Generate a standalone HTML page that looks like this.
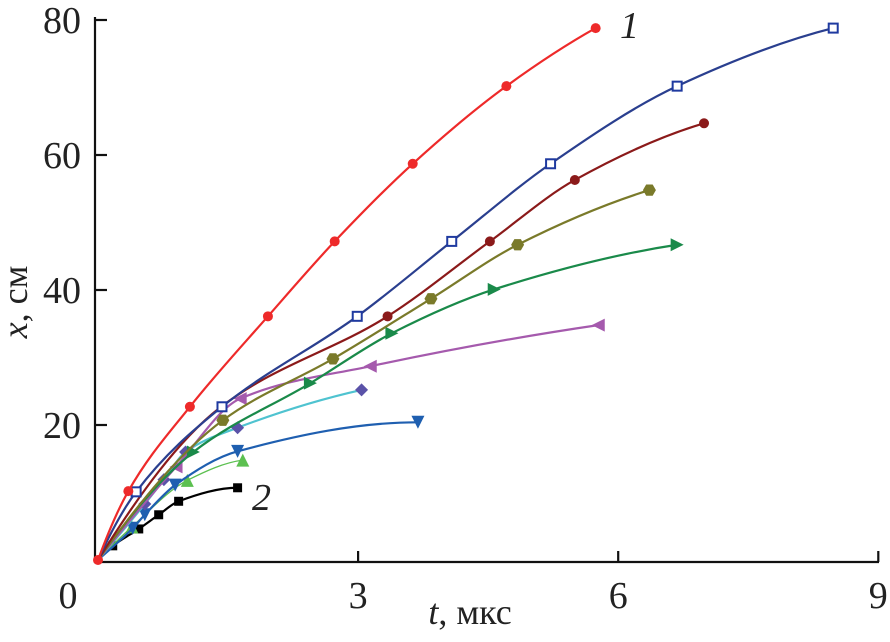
<!DOCTYPE html>
<html><head><meta charset="utf-8"><style>
body{margin:0;background:#fff}
svg{display:block;font-family:"Liberation Serif","Times New Roman",serif}
</style></head><body>
<svg id="c" width="890" height="642" viewBox="0 0 890 642">
<g id="axes">
<line x1="95" y1="17" x2="95" y2="563" stroke="#111" stroke-width="2.2"/>
<line x1="94" y1="562" x2="879" y2="562" stroke="#111" stroke-width="2.2"/>
</g>
<text x="27" y="302" transform="rotate(-90 27 302)" text-anchor="middle" font-size="36" fill="#222"><tspan font-style="italic">x</tspan>, см</text>
<text x="470" y="624" text-anchor="middle" font-size="36" fill="#222"><tspan font-style="italic">t</tspan>, мкс</text>
<text x="620" y="38" font-size="38" font-style="italic" fill="#222">1</text>
<text x="252" y="510" font-size="38" font-style="italic" fill="#222">2</text>
<g id="series"></g>
</svg>
<script>
const xTicks=[3,6,9];
const yTicks=[20,40,60,80];
const tRed=[0,0.35,1.06,1.96,2.73,3.63,4.71,5.74];
const xRed=[0,10.2,22.7,36.1,47.2,58.7,70.2,78.8];
const tBlue=[0,0.44,1.43,2.99,4.08,5.22,6.68,8.48];
const xBlue=[0,10.1,22.7,36.1,47.2,58.7,70.2,78.8];
const tDark=[0,1.4,3.34,4.52,5.50,6.99];
const xDark=[0,22.5,36.1,47.2,56.3,64.7];
const tOlive=[0,1.44,2.71,3.84,4.84,6.36];
const xOlive=[0,20.7,29.8,38.7,46.7,54.8];
const tGreen=[0,1.1,2.45,3.39,4.57,6.68];
const xGreen=[0,16,26.2,33.6,40.1,46.7];
const tPurple=[0,0.9,1.64,3.14,5.77];
const xPurple=[0,13.8,23.9,28.7,34.8];
const tDiam=[0,0.54,0.76,1.01,1.61,3.04];
const xDiam=[0,8.3,11.9,16,19.6,25.2];
const tDown=[0,0.40,0.54,0.89,1.61,3.69];
const xDown=[0,4.7,6.7,11.1,16.1,20.4];
const tLg=[0,0.39,1.03,1.67];
const xLg=[0,4.9,11.8,14.8];
const tBlack=[0,0.17,0.47,0.70,0.93,1.61];
const xBlack=[0,2.1,4.6,6.7,8.7,10.7];

const sx=t=>98+t*86.7, sy=v=>560-v*6.75;
const NS="http://www.w3.org/2000/svg";
const svg=document.getElementById('c'), ax=document.getElementById('axes'), G=document.getElementById('series');
function mk(tag,at,par){const e=document.createElementNS(NS,tag);for(const k in at)e.setAttribute(k,at[k]);(par||svg).appendChild(e);return e;}
xTicks.forEach(v=>{
 const l=mk('line',{x1:sx(v),x2:sx(v),y1:562,y2:551,stroke:'#111','stroke-width':2.2},ax);
 
 
 const t=mk('text',{x:sx(v),y:608,'text-anchor':'middle','font-size':38,fill:'#222'});
 t.textContent=v;
 
 
});
const z=mk('text',{x:68,y:608,'text-anchor':'middle','font-size':38,fill:'#222'});z.textContent='0';


yTicks.forEach(v=>{
 const l=mk('line',{x1:95,x2:107,y1:sy(v),y2:sy(v),stroke:'#111','stroke-width':2.2},ax);
 
 
 const t=mk('text',{x:81,y:sy(v)+13,'text-anchor':'end','font-size':38,fill:'#222'});
 t.textContent=v;
 
 
});
// monotone cubic (Fritsch-Carlson) in t
function curve(ts,xs){
 const n=ts.length, d=[], m=[];
 for(let i=0;i<n-1;i++)d.push((xs[i+1]-xs[i])/(ts[i+1]-ts[i]));
 for(let i=0;i<n;i++){
  if(i===0)m.push(n>2?Math.max(d[0]*1.5-d[1]*0.5,d[0]):d[0]);
  else if(i===n-1)m.push(n>2?Math.max(d[n-2]*1.5-d[n-3]*0.5,0):d[n-2]);
  else{const h0=ts[i]-ts[i-1],h1=ts[i+1]-ts[i];m.push(d[i-1]*d[i]<=0?0:(h0+h1)*3/((2*h1+h0)/d[i-1]+(h1+2*h0)/d[i]));}
 }
 let p='M'+sx(ts[0])+','+sy(xs[0]);
 for(let i=0;i<n-1;i++){
  const h=ts[i+1]-ts[i];
  p+=` C${sx(ts[i]+h/3)},${sy(xs[i]+m[i]*h/3)} ${sx(ts[i+1]-h/3)},${sy(xs[i+1]-m[i+1]*h/3)} ${sx(ts[i+1])},${sy(xs[i+1])}`;
 }
 return p;
}
function marker(type,x,y,c,g){
 const s=6.5;
 if(type==='circle')return mk('circle',{cx:x,cy:y,r:5,fill:c},g);
 if(type==='osq')return mk('rect',{x:x-4.5,y:y-4.5,width:9,height:9,fill:'#fff',stroke:c,'stroke-width':2},g);
 if(type==='sq')return mk('rect',{x:x-4.5,y:y-4.5,width:9,height:9,fill:c},g);
 if(type==='hex'){const pts=[];for(let k=0;k<6;k++){const a=Math.PI/3*k;pts.push((x+s*Math.cos(a))+','+(y+s*Math.sin(a)));}return mk('polygon',{points:pts.join(' '),fill:c},g);}
 if(type==='right')return mk('polygon',{points:`${x+s},${y} ${x-s},${y-s} ${x-s},${y+s}`,fill:c},g);
 if(type==='left')return mk('polygon',{points:`${x-s},${y} ${x+s},${y-s} ${x+s},${y+s}`,fill:c},g);
 if(type==='down')return mk('polygon',{points:`${x-s},${y-s} ${x+s},${y-s} ${x},${y+s}`,fill:c},g);
 if(type==='up')return mk('polygon',{points:`${x-s},${y+s} ${x+s},${y+s} ${x},${y-s}`,fill:c},g);
 if(type==='diam')return mk('polygon',{points:`${x},${y-s} ${x+s},${y} ${x},${y+s} ${x-s},${y}`,fill:c},g);
}
const S=[
 ['black',tBlack,xBlack,'#000','#000','sq',2.2],
 ['light-green',tLg,xLg,'#5cc050','#5cc050','up',1.3],
 ['blue-down',tDown,xDown,'#1f5fb0','#1f5fb0','down',2.2],
 ['cyan-diamond',tDiam,xDiam,'#4fc3d0','#5a52a8','diam',2.2],
 ['purple',tPurple,xPurple,'#a55aad','#a55aad','left',2.2],
 ['green',tGreen,xGreen,'#1a8a4a','#1a8a4a','right',2.2],
 ['olive',tOlive,xOlive,'#7a7a2a','#7a7a2a','hex',2.2],
 ['dark-red',tDark,xDark,'#8b1a1a','#8b1a1a','circle',2.2],
 ['navy',tBlue,xBlue,'#2a3f8f','#1f3aa0','osq',2.2],
 ['red',tRed,xRed,'#ee2a2a','#ee2a2a','circle',2.2]
];
S.forEach(([nm,ts,xs,lc,mc,mt,w])=>{
 const g=mk('g',{},G);
 
 
 const p=mk('path',{d:curve(ts,xs),fill:'none',stroke:lc,'stroke-width':w},g);
 
 
 ts.forEach((t,i)=>{
  if(i===0 && nm!=='red')return;
  if(nm==='dark-red'&&i<2)return;
  const m=marker(mt,sx(t),sy(xs[i]),mc,g);
  
  
 });
});
</script>
</body></html>
